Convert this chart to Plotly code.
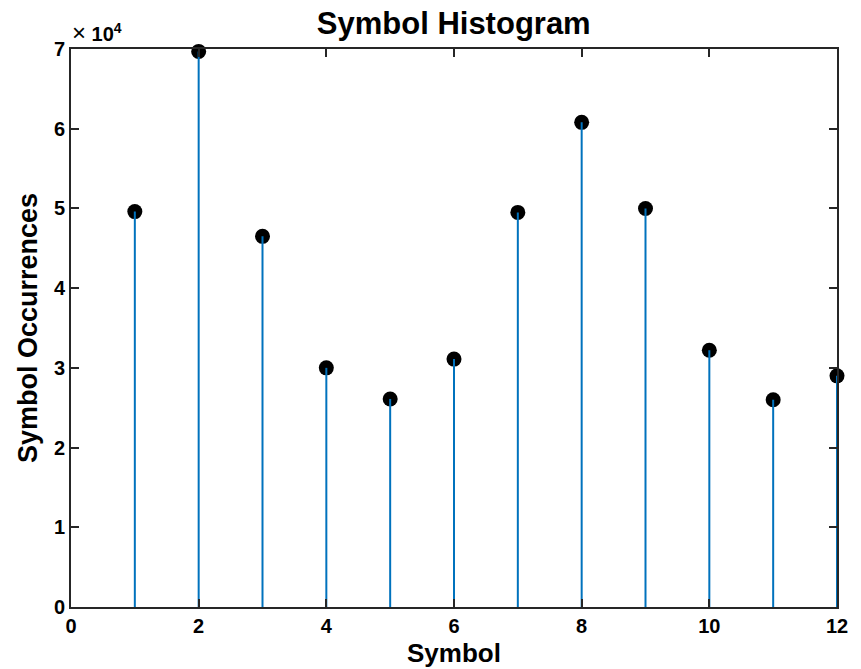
import plotly.graph_objects as go

symbols = [1, 2, 3, 4, 5, 6, 7, 8, 9, 10, 11, 12]
occurrences = [49600, 69700, 46500, 30000, 26100, 31100, 49500, 60800, 50000, 32200, 26000, 29000]
x_ticks = [0, 2, 4, 6, 8, 10, 12]
y_ticks = [0, 10000, 20000, 30000, 40000, 50000, 60000, 70000]
y_tick_labels = ["0", "1", "2", "3", "4", "5", "6", "7"]

stem_x, stem_y = [], []
for s, v in zip(symbols, occurrences):
    stem_x += [s, s, None]
    stem_y += [0, v, None]

FONT = "Liberation Sans, Arial, sans-serif"
AX = "#262626"

fig = go.Figure()
fig.add_trace(go.Scatter(x=symbols, y=occurrences, mode="markers",
                         marker=dict(size=15, color="black"),
                         cliponaxis=False, showlegend=False, hoverinfo="skip"))
fig.add_trace(go.Scatter(x=stem_x, y=stem_y, mode="lines",
                         line=dict(color="#0072BD", width=2),
                         cliponaxis=False, showlegend=False))

fig.update_layout(
    width=861, height=669,
    margin=dict(l=71, r=24, t=49, b=62),
    paper_bgcolor="white", plot_bgcolor="white",
    title=dict(text="Symbol Histogram", x=0.527, xanchor="center", y=0.982, yanchor="top",
               font=dict(family=FONT, size=31, color="black", weight="bold")),
    xaxis=dict(range=[0, 12], tickvals=x_ticks, ticks="inside", ticklen=8, tickwidth=1.5,
               tickcolor=AX, showline=True, linecolor=AX, linewidth=2, mirror="ticks",
               showgrid=False, zeroline=False, ticklabelstandoff=0, automargin=False,
               tickfont=dict(family=FONT, size=20, color="black", weight="bold"),
               title=dict(text="Symbol", standoff=8,
                          font=dict(family=FONT, size=26, color="black", weight="bold"))),
    yaxis=dict(range=[0, 70000], tickvals=y_ticks, ticktext=y_tick_labels, ticks="inside",
               ticklen=8, tickwidth=1.5, tickcolor=AX, showline=True, linecolor=AX, linewidth=2,
               mirror="ticks", showgrid=False, zeroline=False, automargin=False,
               tickfont=dict(family=FONT, size=20, color="black", weight="bold"),
               title=dict(text="Symbol Occurrences", standoff=8,
                          font=dict(family=FONT, size=27, color="black", weight="bold"))),
)
fig.add_annotation(xref="paper", yref="paper", x=0, y=1, xanchor="left", yanchor="bottom",
                   showarrow=False, xshift=-1, yshift=1,
                   text="<span style='font-size:24px'>×</span> <b>10<sup>4</sup></b>",
                   font=dict(family=FONT, size=20, color="black"))

fig.write_html("out.html")
